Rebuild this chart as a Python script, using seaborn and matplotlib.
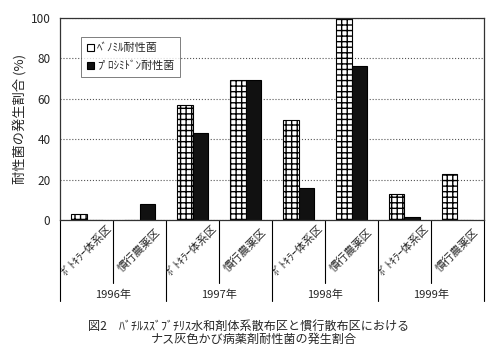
import pandas as pd
import numpy as np

import seaborn as sns
import matplotlib.pyplot as plt
from matplotlib.transforms import blended_transform_factory

# данные
years = ["1996年", "1997年", "1998年", "1999年"]
plots = ["ﾎﾞﾄｷﾗｰ体系区", "慣行農薬区"]
benomyl = [3, 0, 57, 69.5, 49.5, 100, 13, 23]
procymidone = [0, 8, 43, 69.5, 16, 76, 1.5, 0]
series_names = ["ﾍﾞﾉﾐﾙ耐性菌", "ﾌﾟﾛｼﾐﾄﾞﾝ耐性菌"]

categories = [f"{y}\n{p}" for y in years for p in plots]
df = pd.DataFrame({
    "category": categories * 2,
    "value": benomyl + procymidone,
    "series": [series_names[0]] * len(categories) + [series_names[1]] * len(categories),
})

sns.set_style("white")
plt.rcParams['font.family'] = ['Noto Sans CJK JP', 'DejaVu Sans']

fig = plt.figure(figsize=(5.01, 3.59), dpi=100)
ax = fig.add_axes([0.12, 0.387, 0.846, 0.563])

sns.barplot(data=df, x="category", y="value", hue="series", order=categories,
            hue_order=series_names, palette={series_names[0]: "white", series_names[1]: "#111111"},
            edgecolor="black", linewidth=0.8, width=0.6, ax=ax)

# кирпичная штриховка для беномила
for bar in ax.containers[0]:
    bar.set_hatch("+++")

ax.set_ylim(0, 100)
ax.set_xlim(-0.5, len(categories) - 0.5)
ax.set_yticks([0, 20, 40, 60, 80, 100])
ax.tick_params(axis="y", length=0, pad=7, labelsize=8.5)
ax.set_xticks([])
ax.set_xlabel("")
ax.set_ylabel("耐性菌の発生割合 (%)", fontsize=9.5, labelpad=3)
ax.yaxis.grid(True, linestyle=":", color="#555555", linewidth=0.8)
ax.set_axisbelow(True)
for s in ax.spines.values():
    s.set_color("#333333")
    s.set_linewidth(0.9)

# подписи категорий и разделители под осью
trans = blended_transform_factory(ax.transData, ax.transAxes)
for i, cat in enumerate(categories):
    ax.text(i, -0.15, cat.split("\n")[1], rotation=45, ha="center", va="center",
            fontsize=8, transform=trans)
for k in range(len(categories) + 1):
    x = k - 0.5
    bottom = -0.40 if k % 2 == 0 else -0.31
    ax.plot([x, x], [0, bottom], color="black", linewidth=0.8, transform=trans, clip_on=False)
for j, y in enumerate(years):
    ax.text(2 * j + 0.5, -0.37, y, ha="center", va="center", fontsize=8, transform=trans)

leg = ax.legend(loc="upper left", bbox_to_anchor=(0.05, 0.905), fontsize=8, frameon=True,
                fancybox=False, handlelength=0.6, handleheight=0.6, handletextpad=0.3,
                borderpad=0.5, labelspacing=0.7, borderaxespad=0)
leg.get_frame().set_edgecolor("#444444")
leg.get_frame().set_linewidth(0.6)

fig.text(0.496, 0.092, "図2　ﾊﾞﾁﾙｽｽﾞﾌﾞﾁﾘｽ水和剤体系散布区と慣行散布区における",
         ha="center", va="center", fontsize=8.7)
fig.text(0.507, 0.055, "ナス灰色かび病薬剤耐性菌の発生割合", ha="center", va="center", fontsize=8.7)

fig.savefig("out.png", dpi=100, facecolor="white")
